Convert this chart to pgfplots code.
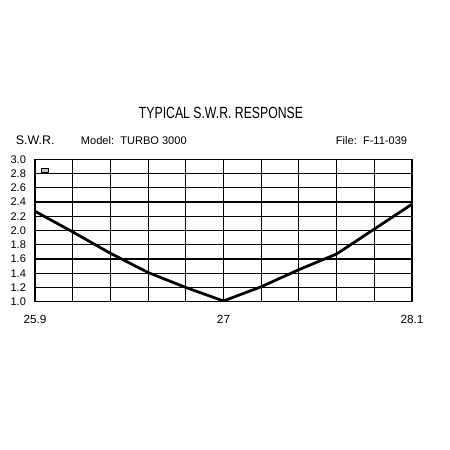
\documentclass[border=0pt]{standalone}
\usepackage{pgfplots}
\pgfplotsset{compat=1.18}
\usepackage{fontspec}
\setmainfont{Liberation Sans}

\begin{document}
\begin{tikzpicture}
    \path[use as bounding box] (0,0) rectangle (4.5in,4.5in);

    % headings
    \node[anchor=base, xscale=0.757, font=\fontsize{11.7}{13}\selectfont]
        at (2.21in,3.31in) {TYPICAL S.W.R. RESPONSE};
    \node[anchor=base west, font=\fontsize{9}{11}\selectfont]
        at (0.11in,3.05in) {S.W.R.};
    \node[anchor=base west, font=\fontsize{8}{10}\selectfont]
        at (0.76in,3.057in) {Model:\ \ TURBO 3000};
    \node[anchor=base east, font=\fontsize{8}{10}\selectfont]
        at (4.12in,3.057in) {File:\ \ F-11-039};

    \begin{axis}[
        at={(0.35in,1.483in)}, anchor=south west,
        scale only axis,
        width=3.77in, height=1.424in,
        xmin=25.9, xmax=28.1,
        ymin=1.0, ymax=3.0,
        xtick={25.9,26.12,26.34,26.56,26.78,27,27.22,27.44,27.66,27.88,28.1},
        xticklabels={25.9,,,,,27,,,,,28.1},
        ytick={1.0,1.2,1.4,1.6,1.8,2.0,2.2,2.4,2.6,2.8,3.0},
        yticklabel style={font=\fontsize{8}{10}\selectfont, xshift=-3pt,
            /pgf/number format/fixed,
            /pgf/number format/fixed zerofill,
            /pgf/number format/precision=1},
        /pgf/number format/assume math mode=true,
        xticklabel style={font=\fontsize{8.5}{10}\selectfont, yshift=-6pt},
        major tick length=0pt,
        grid=major,
        grid style={black, line width=0.8pt},
        axis line style={black, line width=1pt},
    ]
    \addplot[black, line width=2pt] coordinates {
        (25.9, 2.27)
        (26.12, 1.98)
        (26.34, 1.68)
        (26.56, 1.41)
        (26.78, 1.20)
        (27.0, 1.01)
        (27.22, 1.21)
        (27.44, 1.45)
        (27.66, 1.67)
        (27.88, 2.02)
        (28.1, 2.37)
    };
    \node[draw, fill=gray!50, inner sep=0pt, minimum width=5pt, minimum height=3pt,
          anchor=north west] at (axis description cs:0.015,0.94) {};
    \end{axis}
\end{tikzpicture}
\end{document}
